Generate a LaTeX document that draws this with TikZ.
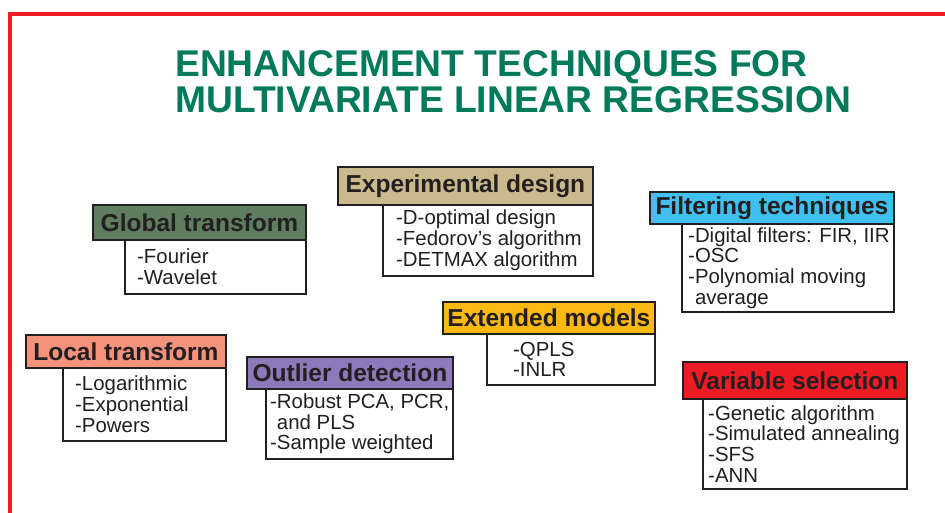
\documentclass[tikz,border=0pt]{standalone}
\usepackage{fontspec}
\setmainfont{Liberation Sans}
\definecolor{ink}{HTML}{231F20}
\definecolor{framered}{HTML}{ED1C24}
\definecolor{titlegreen}{HTML}{007A5A}
\definecolor{cglobal}{HTML}{5E7E5F}
\definecolor{cexper}{HTML}{C9B98C}
\definecolor{cfilter}{HTML}{3FC0EE}
\definecolor{clocal}{HTML}{F4927C}
\definecolor{coutlier}{HTML}{8C79B9}
\definecolor{cextended}{HTML}{FDB913}
\definecolor{cvariable}{HTML}{ED1C24}
\tikzset{
  hdr/.style={draw=ink, line width=1.8pt, anchor=north west, inner sep=0pt,
    font=\fontsize{24.5}{28}\selectfont\bfseries, text=ink},
  bodybox/.style={draw=ink, line width=1.8pt, fill=white, anchor=north west, inner sep=0pt},
  bodytxt/.style={anchor=west, inner sep=0pt, align=left, text=ink,
    font=\fontsize{20.4}{20.7}\selectfont},
  ttl/.style={anchor=base west, inner sep=0pt, align=left, text=titlegreen,
    font=\fontsize{37.2}{36}\selectfont\bfseries}
}
\newcommand{\techbox}[9]{%
  % #1 name, #2 color, #3 x1, #4 x2, #5 hy1, #6 hy2, #7 body left, #8 body bottom, #9 header text
  \node[bodybox, minimum width=#4-#7, minimum height=#8-#6] (#1-b) at (#7,#6) {};
  \node[hdr, fill=#2, minimum width=#4-#3, minimum height=#6-#5] (#1-h) at (#3,#5) {#9};
}
\begin{document}
\begin{tikzpicture}[x=1pt,y=-1pt]
\useasboundingbox (0,0) rectangle (945,513);
\fill[white] (0,0) rectangle (945,513);
% red frame
\draw[framered, line width=4pt] (10,520) -- (10,13.7) -- (950,13.7);
% title
\node[ttl] (title) at (175,112.5) {ENHANCEMENT TECHNIQUES FOR\\MULTIVARIATE LINEAR REGRESSION};

% Global transform
\techbox{glob}{cglobal}{92}{305}{204}{239}{124}{293}{Global transform}
\node[bodytxt] (glob-t) at ([xshift=13pt]glob-b.west) {-Fourier\\-Wavelet};

% Experimental design
\techbox{exp}{cexper}{337}{592}{166}{204}{382}{275}{Experimental design}
\node[bodytxt] (exp-t) at ([xshift=14pt]exp-b.west) {-D-optimal design\\-Fedorov’s algorithm\\-DETMAX algorithm};

% Filtering techniques
\techbox{filt}{cfilter}{649}{893}{191}{223}{681}{311}{Filtering techniques}
\node[bodytxt] (filt-t) at ([xshift=7pt]filt-b.west) {-Digital filters: FIR, IIR\\-OSC\\-Polynomial moving\\\phantom{-}average};

% Local transform
\techbox{loc}{clocal}{25}{225}{334}{367}{62}{440}{Local transform}
\node[bodytxt] (loc-t) at ([xshift=13pt]loc-b.west) {-Logarithmic\\-Exponential\\-Powers};

% Outlier detection
\techbox{out}{coutlier}{246}{452}{356}{388}{265}{458}{Outlier detection}
\node[bodytxt] (out-t) at ([xshift=5pt]out-b.west) {-Robust PCA, PCR,\\\phantom{-}and PLS\\-Sample weighted};

% Extended models
\techbox{ext}{cextended}{442}{654}{301}{333}{486}{384}{Extended models}
\node[bodytxt] (ext-t) at ([xshift=27pt]ext-b.west) {-QPLS\\-INLR};

% Variable selection
\techbox{var}{cvariable}{682}{906}{361}{398}{702}{488}{Variable selection}
\node[bodytxt] (var-t) at ([xshift=6pt]var-b.west) {-Genetic algorithm\\-Simulated annealing\\-SFS\\-ANN};
\end{tikzpicture}
\end{document}
